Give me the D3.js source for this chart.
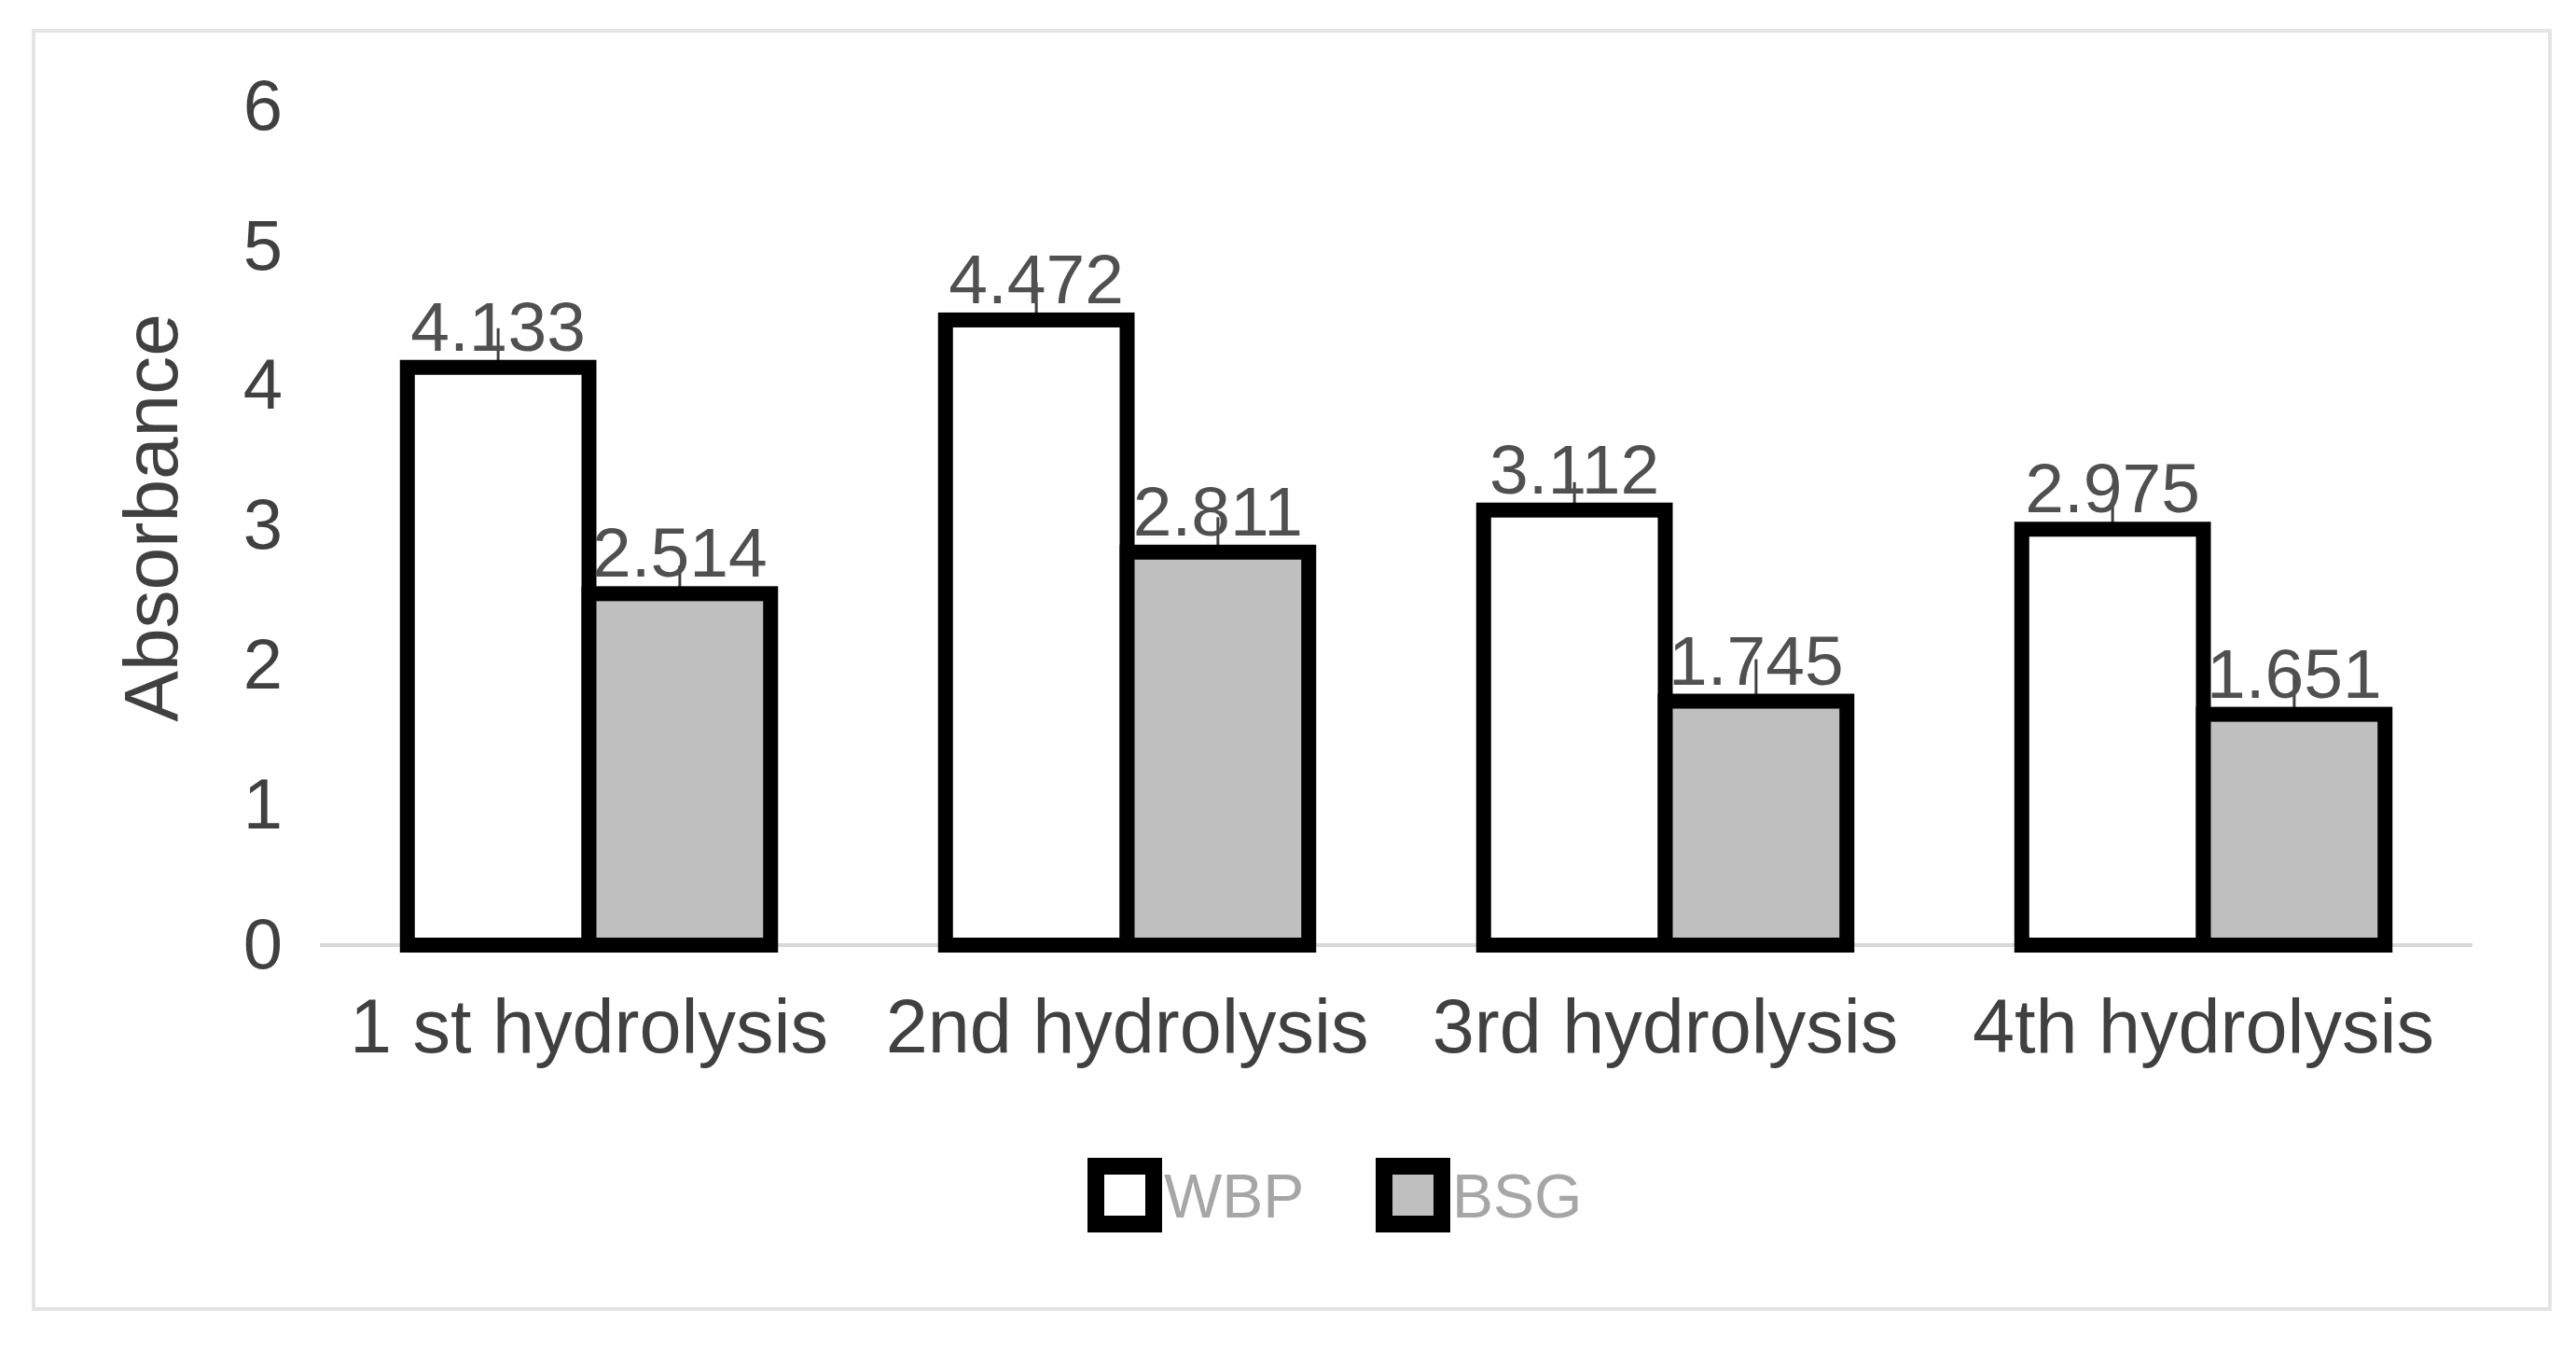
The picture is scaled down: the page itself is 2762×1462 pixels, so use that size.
<!DOCTYPE html>
<html lang="en">
<head>
  <meta charset="UTF-8">
  <title>Absorbance per hydrolysis</title>
  <style>
  body { margin: 0; background: #fff; }
  text { font-family: "Liberation Sans", Arial, sans-serif; }
  </style>
  <script src="https://d3js.org/d3.v7.min.js"></script>
</head>
<body>
<div id="chart"></div>
<script>
// data
var categories = ["1 st hydrolysis", "2nd hydrolysis", "3rd hydrolysis", "4th hydrolysis"];
var seriesNames = ["WBP", "BSG"];
var wbpValues = [4.133, 4.472, 3.112, 2.975];
var bsgValues = [2.514, 2.811, 1.745, 1.651];
var wbpErrors = [0.28, 0.27, 0.2, 0.22];
var bsgErrors = [0.2, 0.25, 0.3, 0.3];
var yTicks = [0, 1, 2, 3, 4, 5, 6];

var fills = { WBP: "#ffffff", BSG: "#bfbfbf" };

var fullWidth = 2762, fullHeight = 1462;
var margin = { top: 114, right: 111, bottom: 449, left: 343 };
var width = fullWidth - margin.left - margin.right;
var height = fullHeight - margin.top - margin.bottom;

var rows = categories.map(function(c, i) {
  return {
    category: c,
    values: [
      { key: "WBP", value: wbpValues[i], err: wbpErrors[i] },
      { key: "BSG", value: bsgValues[i], err: bsgErrors[i] }
    ]
  };
});

var svg = d3.select("#chart").append("svg")
    .attr("width", fullWidth)
    .attr("height", fullHeight);

// outer frame
svg.append("rect")
    .attr("x", 36).attr("y", 33)
    .attr("width", 2698).attr("height", 1370)
    .attr("fill", "none")
    .attr("stroke", "#e4e4e4")
    .attr("stroke-width", 4);

var g = svg.append("g")
    .attr("transform", "translate(" + margin.left + "," + margin.top + ")");

var x0 = d3.scaleBand()
    .domain(categories)
    .range([0, width])
    .paddingInner(0.325)
    .paddingOuter(0.1625);

var x1 = d3.scaleBand()
    .domain(seriesNames)
    .range([0, x0.bandwidth()]);

var y = d3.scaleLinear()
    .domain([0, 6])
    .range([height, 0]);

// y axis (labels only)
var yAxis = g.append("g")
    .call(d3.axisLeft(y).tickValues(yTicks).tickFormat(d3.format("d")).tickSize(0).tickPadding(40));
yAxis.select(".domain").remove();
yAxis.selectAll("text")
    .attr("font-size", 76)
    .attr("font-family", "'Liberation Sans', Arial, sans-serif")
    .attr("fill", "#404040");

// baseline
g.append("line")
    .attr("x1", 0).attr("x2", width)
    .attr("y1", y(0)).attr("y2", y(0))
    .attr("stroke", "#d9d9d9")
    .attr("stroke-width", 4);

// x axis
var xAxis = g.append("g")
    .attr("transform", "translate(0," + height + ")")
    .call(d3.axisBottom(x0).tickSize(0).tickPadding(57));
xAxis.select(".domain").remove();
xAxis.selectAll("text")
    .attr("font-size", 81)
    .attr("font-family", "'Liberation Sans', Arial, sans-serif")
    .attr("fill", "#404040");

// y axis title
svg.append("text")
    .attr("transform", "translate(190,555) rotate(-90)")
    .attr("text-anchor", "middle")
    .attr("font-size", 82)
    .attr("fill", "#404040")
    .text("Absorbance");

var groups = g.selectAll(".group")
    .data(rows)
    .enter().append("g")
    .attr("class", "group")
    .attr("transform", function(d) { return "translate(" + x0(d.category) + ",0)"; });

// small error ticks, drawn behind the bars
groups.selectAll(".err")
    .data(function(d) { return d.values; })
    .enter().append("line")
    .attr("class", "err")
    .attr("x1", function(d) { return x1(d.key) + x1.bandwidth() / 2; })
    .attr("x2", function(d) { return x1(d.key) + x1.bandwidth() / 2; })
    .attr("y1", function(d) { return y(d.value - d.err); })
    .attr("y2", function(d) { return y(d.value + d.err); })
    .attr("stroke", "#404040")
    .attr("stroke-width", 3);

groups.selectAll(".bar")
    .data(function(d) { return d.values; })
    .enter().append("rect")
    .attr("class", "bar")
    .attr("x", function(d) { return x1(d.key); })
    .attr("y", function(d) { return y(d.value); })
    .attr("width", x1.bandwidth())
    .attr("height", function(d) { return y(0) - y(d.value); })
    .attr("fill", function(d) { return fills[d.key]; })
    .attr("stroke", "#000")
    .attr("stroke-width", 16);

groups.selectAll(".lbl")
    .data(function(d) { return d.values; })
    .enter().append("text")
    .attr("class", "lbl")
    .attr("x", function(d) { return x1(d.key) + x1.bandwidth() / 2; })
    .attr("y", function(d) { return y(d.value) - 18; })
    .attr("text-anchor", "middle")
    .attr("font-size", 75)
    .attr("fill", "#505050")
    .text(function(d) { return d.value.toFixed(3); });

// legend
var legendX = d3.scalePoint().domain(seriesNames).range([1175, 1484]);
var legend = svg.selectAll(".legend")
    .data(seriesNames)
    .enter().append("g")
    .attr("class", "legend")
    .attr("transform", function(d) { return "translate(" + legendX(d) + ",1281)"; });

legend.append("rect")
    .attr("x", 0).attr("y", -31)
    .attr("width", 62).attr("height", 62)
    .attr("fill", function(d) { return fills[d]; })
    .attr("stroke", "#000")
    .attr("stroke-width", 18);

legend.append("text")
    .attr("x", 73)
    .attr("y", 24)
    .attr("font-size", 66)
    .attr("fill", "#a6a6a6")
    .text(function(d) { return d; });
</script>
</body>
</html>
